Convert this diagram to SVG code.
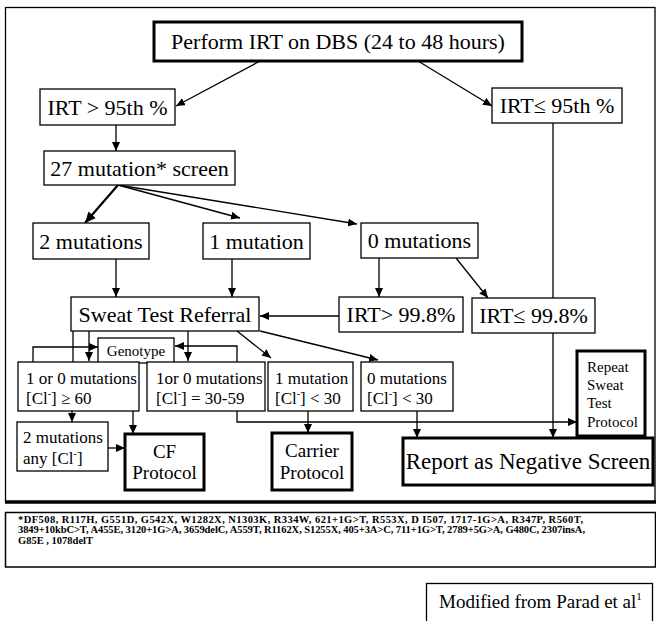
<svg xmlns="http://www.w3.org/2000/svg" width="656" height="621" viewBox="0 0 656 621">
<defs>
<marker id="ah" markerWidth="9" markerHeight="8" refX="9" refY="4" orient="auto" markerUnits="userSpaceOnUse">
<path d="M0,0 L9,4 L0,8 Z" fill="#000"/>
</marker>
<marker id="ahb" markerWidth="11" markerHeight="10" refX="11" refY="5" orient="auto" markerUnits="userSpaceOnUse">
<path d="M0,0 L11,5 L0,10 Z" fill="#000"/>
</marker>
<style>
text{font-family:"Liberation Serif","Times New Roman",serif;fill:#000}
.box{fill:#fff;stroke:#000;stroke-width:1.3}
.thick{fill:#fff;stroke:#000;stroke-width:3}
.big{font-size:22px;text-anchor:middle}
.mid{font-size:17px}
.prot{font-size:19px;text-anchor:middle}
.sm{font-size:15px}
.foot{font-size:10.5px;font-weight:bold}
.ln{fill:none;stroke:#000;stroke-width:1.3}
.arr{fill:none;stroke:#000;stroke-width:1.3;marker-end:url(#ah)}
</style>
</defs>
<rect width="656" height="621" fill="#fff"/>
<!-- frames -->
<rect x="5.5" y="7.5" width="649.5" height="494.5" fill="none" stroke="#000" stroke-width="1.3"/>
<line x1="5" y1="502" x2="656" y2="502" stroke="#000" stroke-width="3.5"/>
<rect x="5.5" y="512.5" width="650" height="54.5" fill="none" stroke="#000" stroke-width="1.5"/>

<!-- connectors -->
<g id="connectors">
<line class="arr" x1="260" y1="61" x2="176" y2="106"/>
<line class="arr" x1="418" y1="61" x2="492" y2="106"/>
<line class="arr" x1="116" y1="125" x2="116" y2="151"/>
<line x1="118" y1="185" x2="85" y2="223" stroke="#000" stroke-width="2.2" marker-end="url(#ahb)"/>
<line class="arr" x1="118" y1="185" x2="240" y2="218"/>
<line class="arr" x1="118" y1="185" x2="357" y2="224"/>
<line class="arr" x1="116" y1="259" x2="116" y2="297"/>
<line class="arr" x1="232" y1="259" x2="232" y2="297"/>
<line class="arr" x1="379" y1="258" x2="379" y2="297"/>
<line class="arr" x1="456" y1="258" x2="488" y2="298"/>
<line class="arr" x1="339" y1="316" x2="260" y2="316"/>
<line class="arr" x1="553" y1="123" x2="553" y2="438"/>
<line class="ln" x1="73" y1="331" x2="73" y2="362"/>
<line class="arr" x1="89" y1="331" x2="89" y2="361"/>
<line class="arr" x1="188" y1="331" x2="188" y2="361"/>
<polyline class="arr" points="33,362 33,347 98,347"/>
<polyline class="arr" points="237,362 237,346 175,346"/>
<line class="arr" x1="237" y1="331" x2="271" y2="358"/>
<line class="arr" x1="260" y1="331" x2="378" y2="360"/>
<line class="arr" x1="72" y1="411" x2="72" y2="422"/>
<line class="arr" x1="133" y1="411" x2="133" y2="434"/>
<line class="arr" x1="108" y1="448" x2="125" y2="448"/>
<polyline class="arr" points="237,411 237,422 577,422"/>
<line class="arr" x1="308" y1="411" x2="308" y2="433"/>
<line class="arr" x1="417" y1="411" x2="417" y2="438"/>
</g>

<g id="n-perform"><rect class="thick" x="154" y="22" width="368" height="39"/><text class="big" x="338" y="49">Perform IRT on DBS (24 to 48 hours)</text></g>
<g id="n-irt-high"><rect class="box" x="40" y="89" width="135" height="36"/><text class="big" x="107.5" y="115">IRT &gt; 95th %</text></g>
<g id="n-irt-low"><rect class="box" x="492" y="88" width="130" height="35"/><text class="big" x="557" y="113">IRT≤ 95th %</text></g>
<g id="n-screen"><rect class="box" x="44" y="151" width="191" height="34"/><text class="big" x="139.5" y="176">27 mutation* screen</text></g>
<g id="n-two"><rect class="box" x="33" y="223" width="116" height="36"/><text class="big" x="91" y="249">2 mutations</text></g>
<g id="n-one"><rect class="box" x="203" y="223" width="107" height="36"/><text class="big" x="256.5" y="249">1 mutation</text></g>
<g id="n-zero"><rect class="box" x="361" y="223" width="117" height="35"/><text class="big" x="419.5" y="248">0 mutations</text></g>
<g id="n-sweat"><rect class="box" x="71" y="297" width="188" height="34"/><text class="big" x="165" y="322">Sweat Test Referral</text></g>
<g id="n-irt998-high"><rect class="box" x="339" y="297" width="124" height="35"/><text class="big" x="401" y="322">IRT&gt; 99.8%</text></g>
<g id="n-irt998-low"><rect class="box" x="472" y="298" width="123" height="35"/><text class="big" x="533.5" y="323">IRT≤ 99.8%</text></g>
<g id="n-genotype"><rect class="box" x="98" y="338" width="76" height="25"/><text class="sm" x="136" y="356" text-anchor="middle">Genotype</text></g>
<g id="n-ge60"><rect class="box" x="18" y="362" width="121" height="49"/><text class="mid" x="26" y="383.5">1 or 0 mutations</text><text class="mid" x="26" y="403.5">[Cl<tspan font-size="10" dy="-7">-</tspan><tspan dy="7">] ≥ 60</tspan></text></g>
<g id="n-3059"><rect class="box" x="147" y="362" width="118" height="49"/><text class="mid" x="156" y="383.5">1or 0 mutations</text><text class="mid" x="156" y="403.5">[Cl<tspan font-size="10" dy="-7">-</tspan><tspan dy="7">] = 30-59</tspan></text></g>
<g id="n-1mut"><rect class="box" x="268" y="362" width="85" height="49"/><text class="mid" x="275" y="383.5">1 mutation</text><text class="mid" x="275" y="403.5">[Cl<tspan font-size="10" dy="-7">-</tspan><tspan dy="7">] &lt; 30</tspan></text></g>
<g id="n-0mut"><rect class="box" x="361" y="362" width="92" height="49"/><text class="mid" x="367" y="383.5">0 mutations</text><text class="mid" x="367" y="403.5">[Cl<tspan font-size="10" dy="-7">-</tspan><tspan dy="7">] &lt; 30</tspan></text></g>
<g id="n-2any"><rect class="box" x="17" y="422" width="91" height="49"/><text class="mid" x="23" y="443">2 mutations</text><text class="mid" x="23" y="464">any [Cl<tspan font-size="10" dy="-7">-</tspan><tspan dy="7">]</tspan></text></g>
<g id="n-cf"><rect class="thick" x="125" y="434" width="79" height="56"/><text class="prot" x="164.5" y="458">CF</text><text class="prot" x="164.5" y="479">Protocol</text></g>
<g id="n-carrier"><rect class="thick" x="272" y="433" width="80" height="57"/><text class="prot" x="312" y="457">Carrier</text><text class="prot" x="312" y="479">Protocol</text></g>
<g id="n-report"><rect class="thick" x="403" y="438" width="250" height="47"/><text x="528" y="469" font-size="23" text-anchor="middle">Report as Negative Screen</text></g>
<g id="n-repeat"><rect class="thick" x="577" y="351" width="68" height="85"/><text class="sm" x="587" y="372">Repeat</text><text class="sm" x="587" y="390">Sweat</text><text class="sm" x="587" y="408">Test</text><text class="sm" x="587" y="427">Protocol</text></g>

<g id="footnote">
<text class="foot" x="18" y="523" textLength="565" lengthAdjust="spacing">*DF508, R117H, G551D, G542X, W1282X, N1303K, R334W, 621+1G&gt;T, R553X, D I507, 1717-1G&gt;A, R347P, R560T,</text>
<text class="foot" x="18" y="533.3" textLength="567" lengthAdjust="spacing">3849+10kbC&gt;T, A455E, 3120+1G&gt;A, 3659delC, A559T, R1162X, S1255X, 405+3A&gt;C, 711+1G&gt;T, 2789+5G&gt;A, G480C, 2307insA,</text>
<text class="foot" x="18" y="543.6">G85E , 1078delT</text>
</g>

<g id="n-modified"><rect x="426.5" y="583.5" width="226" height="45" fill="#fff" stroke="#000" stroke-width="1.3"/><text x="439" y="608" font-size="19">Modified from Parad et al<tspan font-size="11" dy="-8">1</tspan></text></g>
</svg>
